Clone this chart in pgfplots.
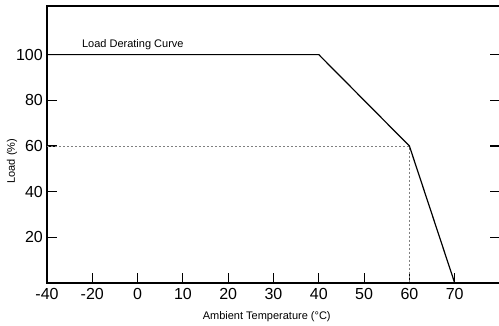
\documentclass[border=0pt]{standalone}
\usepackage{pgfplots}
\pgfplotsset{compat=1.18}
\usepackage{fontspec}
\setmainfont{Liberation Sans}
\begin{document}
\begin{tikzpicture}
\useasboundingbox (-47pt,-43pt) rectangle (452pt,283pt);
\clip (-47pt,-43pt) rectangle (452pt,283pt);
\begin{axis}[
  at={(0,0)}, anchor=south west,
  scale only axis,
  width=453pt, height=277pt,
  xmin=0, xmax=10, ymin=0, ymax=121.3,
  xtick={0,1,2,3,4,5,6,7,8,9},
  xticklabels={-40,-20,0,10,20,30,40,50,60,70},
  ytick={20,40,60,80,100},
  xtick pos=bottom,
  ytick pos=both,
  yticklabel pos=left,
  tick align=inside,
  major tick length=10pt,
  tick style={line width=1.2pt, black},
  axis line style={line width=1.3pt},
  /pgf/number format/assume math mode=true,
  tick label style={font=\fontsize{16}{18}\selectfont},
  yticklabel style={anchor=east, inner sep=0pt, xshift=-4pt},
  xticklabel style={anchor=base, inner sep=0pt, yshift=-17pt},
  xlabel={Ambient Temperature (°C)},
  ylabel={Load (\%)},
  label style={font=\fontsize{11}{13}\selectfont},
  xlabel style={at={(axis description cs:0.485,-0.13)}, anchor=base, inner sep=0pt},
  ylabel style={at={(axis description cs:-0.077,0.44)}, anchor=center, inner sep=0pt},
  clip=false,
]
\addplot[gray, line width=0.9pt, dash pattern=on 2pt off 2pt] coordinates {(0,60) (8,60) (8,0)};
\addplot[black, line width=1.2pt] coordinates {(0,100) (6,100) (8,60) (9,0)};
\node[anchor=base west, inner sep=0pt, font=\fontsize{11}{13}\selectfont] at (axis cs:0.77,103) {Load Derating Curve};
\end{axis}
\end{tikzpicture}
\end{document}
